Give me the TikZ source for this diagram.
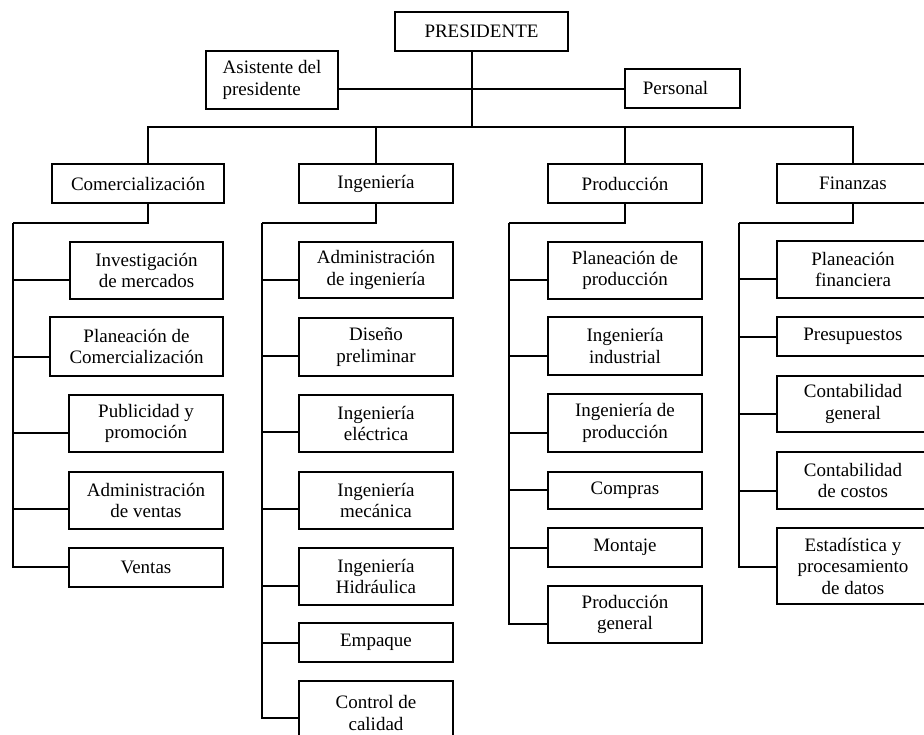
\documentclass[tikz,border=0pt]{standalone}
\usepackage{fontspec}
\setmainfont{Liberation Serif}
\begin{document}
\begin{tikzpicture}[x=1pt,y=-1pt,
  box/.style={draw, line width=2pt, inner sep=0pt, align=center,
    font=\fontsize{19}{21.5}\selectfont},
  wire/.style={line width=2pt},
  fw/.style={minimum width=154pt}]
\useasboundingbox (0,0) rectangle (924,735);

% --- top level ---
\node[box, minimum width=173pt, minimum height=39pt] (pres) at (481.5,31.5) {PRESIDENTE};
\node[box, minimum width=132pt, minimum height=58pt, align=left] (asis) at (272,80) {Asistente del\\presidente};
\node[box, minimum width=115pt, minimum height=39pt] (pers) at (682.5,88.5) {\hspace*{-14pt}Personal};

\node[box, minimum width=172pt, minimum height=39pt] (com)  at (138,183.5) {Comercialización};
\node[box, fw, minimum height=39pt] (ing)  at (376,183.5) {Ingeniería};
\node[box, minimum width=154pt, minimum height=39pt] (prod) at (625,183.5) {Producción};
\node[box, minimum width=152pt, minimum height=39pt] (fin)  at (853,183.5) {Finanzas};

% --- Comercialización ---
\node[box, minimum width=153pt, minimum height=57pt] (c1) at (146.5,270.5) {Investigación\\de mercados};
\node[box, minimum width=173pt, minimum height=59pt] (c2) at (136.5,346.5) {Planeación de\\Comercialización};
\node[box, minimum width=154pt, minimum height=57pt] (c3) at (146,423.5) {Publicidad y\\promoción};
\node[box, minimum width=154pt, minimum height=57pt] (c4) at (146,500.5) {Administración\\de ventas};
\node[box, minimum width=154pt, minimum height=39pt] (c5) at (146,567.5) {Ventas};

% --- Ingeniería ---
\node[box, fw, minimum height=56pt] (i1) at (376,270) {Administración\\de ingeniería};
\node[box, fw, minimum height=58pt] (i2) at (376,347) {Diseño\\preliminar};
\node[box, fw, minimum height=57pt] (i3) at (376,423.5) {Ingeniería\\eléctrica};
\node[box, fw, minimum height=57pt] (i4) at (376,500.5) {Ingeniería\\mecánica};
\node[box, fw, minimum height=57pt] (i5) at (376,576.5) {Ingeniería\\Hidráulica};
\node[box, fw, minimum height=39pt] (i6) at (376,642.5) {Empaque};
\node[box, fw, minimum height=64pt] (i7) at (376,713) {Control de\\calidad};

% --- Producción ---
\node[box, minimum width=154pt, minimum height=57pt] (p1) at (625,270.5) {Planeación de\\producción};
\node[box, minimum width=154pt, minimum height=58pt] (p2) at (625,346) {Ingeniería\\industrial};
\node[box, minimum width=154pt, minimum height=58pt] (p3) at (625,423) {Ingeniería de\\producción};
\node[box, minimum width=154pt, minimum height=37pt] (p4) at (625,490.5) {Compras};
\node[box, minimum width=154pt, minimum height=39pt] (p5) at (625,547.5) {Montaje};
\node[box, minimum width=154pt, minimum height=57pt] (p6) at (625,614.5) {Producción\\general};

% --- Finanzas ---
\node[box, minimum width=152pt, minimum height=57pt] (f1) at (853,269.5) {Planeación\\financiera};
\node[box, minimum width=152pt, minimum height=39pt] (f2) at (853,336.5) {Presupuestos};
\node[box, minimum width=152pt, minimum height=56pt] (f3) at (853,404) {Contabilidad\\general};
\node[box, minimum width=152pt, minimum height=57pt] (f4) at (853,480.5) {Contabilidad\\de costos};
\node[box, minimum width=152pt, minimum height=76pt] (f5) at (853,566) {Estadística y\\procesamiento\\de datos};

% --- connectors ---
\coordinate (hub) at (472,127);
\coordinate (cs) at (13,223);
\coordinate (is) at (262,223);
\coordinate (ps) at (509,223);
\coordinate (fs) at (739,223);

\draw[wire] ([xshift=-9.5pt]pres.south) -- (hub);
\draw[wire] ([yshift=-9pt]asis.east) -- ([yshift=-0.5pt]pers.west);
\draw[wire] (hub) -| ([xshift=10pt]com.north);
\draw[wire] (hub) -| (ing.north);
\draw[wire] (hub) -| (prod.north);
\draw[wire] (hub) -| (fin.north);

\draw[wire] ([xshift=10pt]com.south) |- (cs);
\draw[wire] (ing.south) |- (is);
\draw[wire] (prod.south) |- (ps);
\draw[wire] (fin.south) |- (fs);

\draw[wire] ([yshift=-9.5pt]c1.west) -| (cs);
\draw[wire] ([yshift=-10.5pt]c2.west) -| (cs);
\draw[wire] ([yshift=-9.5pt]c3.west) -| (cs);
\draw[wire] ([yshift=-8.5pt]c4.west) -| (cs);
\draw[wire] ([yshift=0.5pt]c5.west) -| (cs);

\draw[wire] ([yshift=-10pt]i1.west) -| (is);
\draw[wire] ([yshift=-9pt]i2.west) -| (is);
\draw[wire] ([yshift=-8.5pt]i3.west) -| (is);
\draw[wire] ([yshift=-8.5pt]i4.west) -| (is);
\draw[wire] ([yshift=-9.5pt]i5.west) -| (is);
\draw[wire] ([yshift=-0.5pt]i6.west) -| (is);
\draw[wire] ([yshift=-5pt]i7.west) -| (is);

\draw[wire] ([yshift=-9.5pt]p1.west) -| (ps);
\draw[wire] ([yshift=-10pt]p2.west) -| (ps);
\draw[wire] ([yshift=-10pt]p3.west) -| (ps);
\draw[wire] ([yshift=0.5pt]p4.west) -| (ps);
\draw[wire] ([yshift=-0.5pt]p5.west) -| (ps);
\draw[wire] ([yshift=-9.5pt]p6.west) -| (ps);

\draw[wire] ([yshift=-9.5pt]f1.west) -| (fs);
\draw[wire] ([yshift=-0.5pt]f2.west) -| (fs);
\draw[wire] ([yshift=-10pt]f3.west) -| (fs);
\draw[wire] ([yshift=-10.5pt]f4.west) -| (fs);
\draw[wire] ([yshift=-1pt]f5.west) -| (fs);
\end{tikzpicture}
\end{document}
